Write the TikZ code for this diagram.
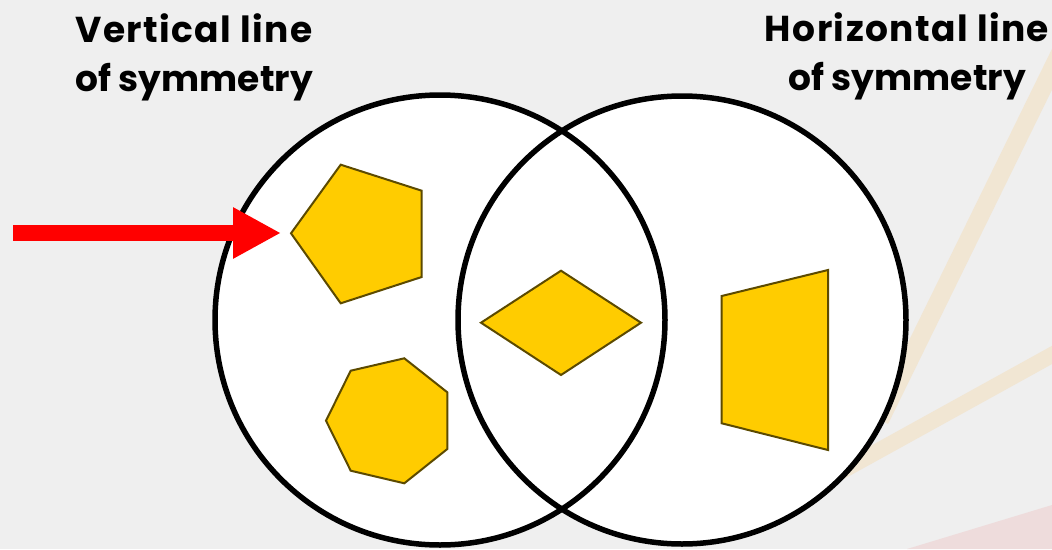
\documentclass[tikz,border=0pt]{standalone}
\usepackage{fontspec}
\setmainfont{Poppins}
\usetikzlibrary{arrows.meta}
\definecolor{bg}{HTML}{EFEFEF}
\definecolor{shapefill}{HTML}{FFCC00}
\definecolor{shapeedge}{HTML}{5C4A00}
\definecolor{band}{HTML}{F1E6D3}
\definecolor{pinkband}{HTML}{EEDCDC}
\newcommand{\widerline}[1]{{\addfontfeature{LetterSpace=4}#1}}
\tikzset{
  yshape/.style={fill=shapefill, draw=shapeedge, line width=2pt, line join=miter},
  venn/.style={draw=black, line width=5.5pt},
  title/.style={font=\fontsize{36}{49}\selectfont\bfseries, align=center, inner sep=0pt, anchor=base},
  redarrow/.style={draw=red, line width=16pt, -{Triangle[length=48pt,width=48pt]}}
}
\begin{document}
\begin{tikzpicture}[x=1pt,y=-1pt]
  % background
  \fill[bg] (0,0) rectangle (1052,549);
  \useasboundingbox (0,0) rectangle (1052,549);
  \draw[band, line width=18pt] (1086,0) -- (880,420);
  \draw[band, line width=16pt] (1070,345) -- (840,472);
  \fill[pinkband] (907,549) -- (1052,505) -- (1052,549) -- cycle;
  % circles
  \coordinate (lc) at (440,320);
  \coordinate (rc) at (682,320);
  \fill[white] (lc) circle (225pt);
  \fill[white] (rc) circle (224pt);
  \draw[venn] (lc) circle (225pt);
  \draw[venn] (rc) circle (224pt);
  % titles
  \node[title] (tl) at (194,91) {\widerline{Vertical line}\\of symmetry};
  \node[title] (tr) at (907,90) {\widerline{Horizontal line}\\of symmetry};
  % arrow
  \coordinate (as) at (13,233);
  \coordinate (ae) at (281,233);
  \draw[redarrow] (as) -- (ae);
  % pentagon
  \draw[yshape] (340.7,164.7) -- (421.7,190.7) -- (421.7,277) -- (340.7,303.3) -- (291,233.3) -- cycle;
  % heptagon
  \draw[yshape] (404.3,358.3) -- (447.3,392.3) -- (447.3,449) -- (404.3,483.3) -- (350.7,470.7) -- (326,420.7) -- (350.7,370.7) -- cycle;
  % rhombus
  \draw[yshape] (561,270.7) -- (641,322.7) -- (561,375) -- (481,322.7) -- cycle;
  % trapezoid
  \draw[yshape] (721.7,296) -- (828,270) -- (828,450) -- (721.7,423.3) -- cycle;
\end{tikzpicture}
\end{document}
